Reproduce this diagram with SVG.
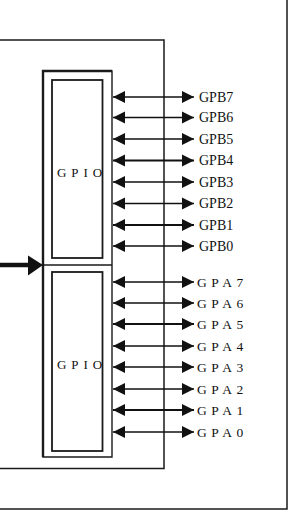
<svg xmlns="http://www.w3.org/2000/svg" width="294" height="531" viewBox="0 0 294 531">
<style>
.ln{stroke:#1a1a1a;fill:none}
.ar{stroke:#111;stroke-width:1.3;marker-start:url(#ah);marker-end:url(#ah)}
.ar.t{stroke-width:2.2}
.lb{font-family:"Liberation Serif",serif;font-size:14px;fill:#111}
.la{font-family:"Liberation Serif",serif;font-size:13.5px;fill:#111;letter-spacing:4.6px}
.gp{font-family:"Liberation Serif",serif;font-size:13px;fill:#111;letter-spacing:4.9px}
</style>
<defs>
<marker id="ah" markerUnits="userSpaceOnUse" markerWidth="13" markerHeight="13" refX="12" refY="6.5" orient="auto-start-reverse" viewBox="0 0 13 13">
<path d="M0,0.5 L12,6.5 L0,12.5 Z" fill="#111"/>
</marker>
</defs>
<rect width="294" height="531" fill="#fff"/>
<g id="frame">
<path class="ln" stroke-width="1.5" d="M287,0 V509 H0"/>
</g>
<g id="chip">
<path class="ln" stroke-width="1.5" d="M0,40 H164 V468.5 H0"/>
</g>
<g id="gpio-outer">
<path class="ln" stroke-width="1.4" d="M43,71 H112 V457 H43 Z"/>
<path class="ln" stroke-width="2.4" d="M43,457 V71 H112"/>
<path class="ln" stroke-width="1.3" d="M43,265 H112"/>
</g>
<g id="gpio-b">
<rect class="ln" stroke-width="1.8" x="52" y="80" width="50.5" height="178"/>
<text class="gp" x="57" y="177">GPIO</text>
</g>
<g id="gpio-a">
<rect class="ln" stroke-width="1.8" x="52" y="272" width="50.5" height="179"/>
<text class="gp" x="57" y="369">GPIO</text>
</g>
<g id="bus-in">
<path d="M0,265 H30" stroke="#111" stroke-width="4.5"/>
<path d="M28,255.5 L43,265 L28,275.5 Z" fill="#111"/>
</g>
<g id="connectors">
<line class="ar" x1="113" y1="97" x2="194" y2="97"/>
<line class="ar" x1="113" y1="117.5" x2="194" y2="117.5"/>
<line class="ar" x1="113" y1="139" x2="194" y2="139"/>
<line class="ar t" x1="113" y1="160.5" x2="194" y2="160.5"/>
<line class="ar" x1="113" y1="182" x2="194" y2="182"/>
<line class="ar" x1="113" y1="203.5" x2="194" y2="203.5"/>
<line class="ar t" x1="113" y1="225" x2="194" y2="225"/>
<line class="ar" x1="113" y1="246" x2="194" y2="246"/>
<line class="ar" x1="113" y1="282" x2="194" y2="282"/>
<line class="ar" x1="113" y1="303" x2="194" y2="303"/>
<line class="ar t" x1="113" y1="324" x2="194" y2="324"/>
<line class="ar" x1="113" y1="346" x2="194" y2="346"/>
<line class="ar" x1="113" y1="367" x2="194" y2="367"/>
<line class="ar" x1="113" y1="389" x2="194" y2="389"/>
<line class="ar t" x1="113" y1="410" x2="194" y2="410"/>
<line class="ar" x1="113" y1="432" x2="194" y2="432"/>
</g>
<g id="labels">
<text class="lb" x="199" y="101.5">GPB7</text>
<text class="lb" x="199" y="122">GPB6</text>
<text class="lb" x="199" y="143.5">GPB5</text>
<text class="lb" x="199" y="165">GPB4</text>
<text class="lb" x="199" y="186.5">GPB3</text>
<text class="lb" x="199" y="208">GPB2</text>
<text class="lb" x="199" y="229.5">GPB1</text>
<text class="lb" x="199" y="250.5">GPB0</text>
<text class="la" x="197" y="286.5">GPA7</text>
<text class="la" x="197" y="307.5">GPA6</text>
<text class="la" x="197" y="328.5">GPA5</text>
<text class="la" x="197" y="350.5">GPA4</text>
<text class="la" x="197" y="371.5">GPA3</text>
<text class="la" x="197" y="393.5">GPA2</text>
<text class="la" x="197" y="414.5">GPA1</text>
<text class="la" x="197" y="436.5">GPA0</text>
</g>
</svg>
